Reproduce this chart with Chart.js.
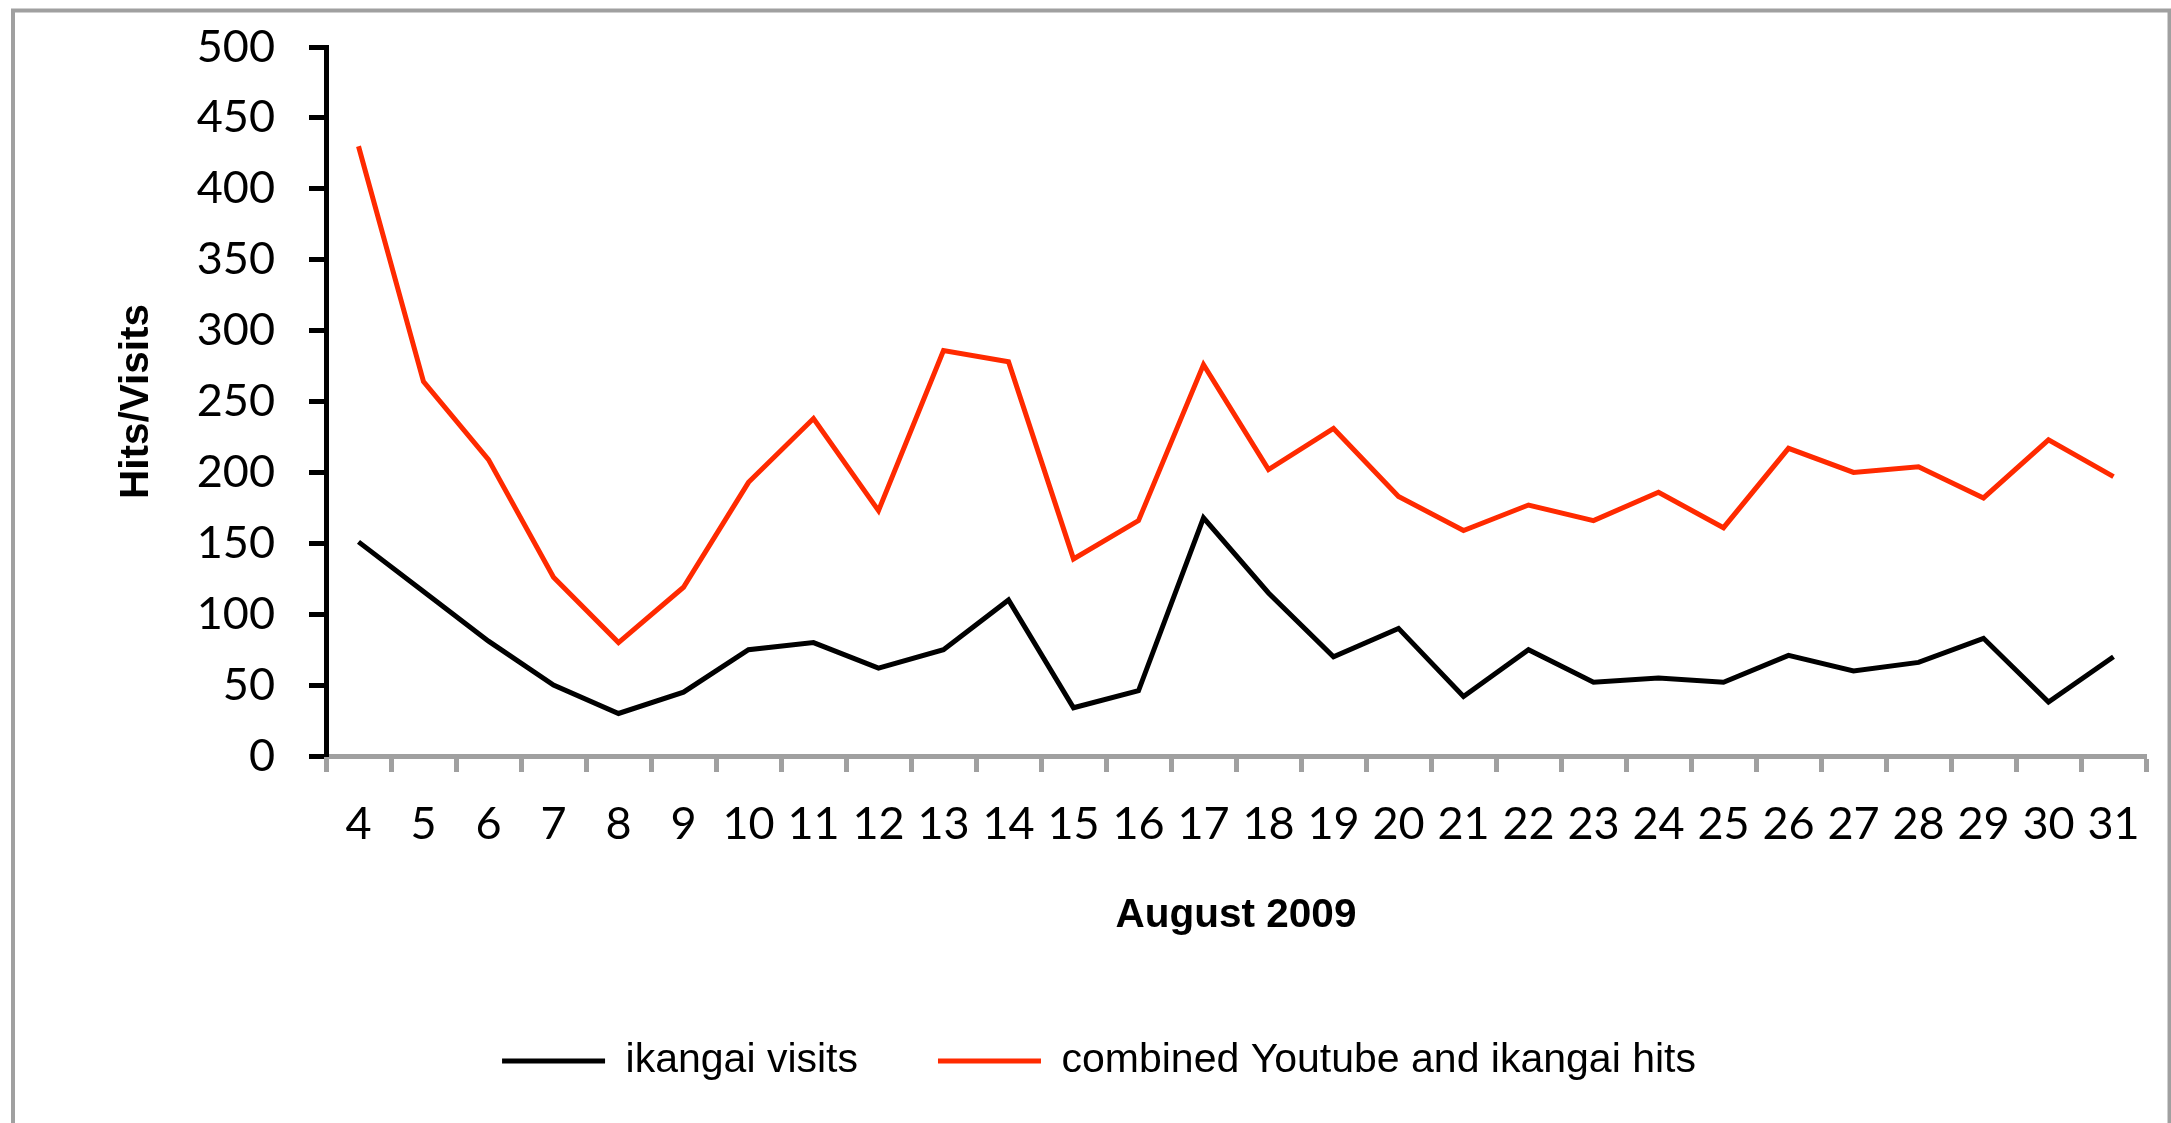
<!DOCTYPE html>
<html>
<head>
<meta charset="utf-8">
<title>ikangai visits and hits, August 2009</title>
<script src="https://cdn.jsdelivr.net/npm/chart.js@4/dist/chart.umd.min.js"></script>
<style>
  html, body { margin: 0; padding: 0; background: #ffffff; }
  canvas { display: block; }
</style>
</head>
<body>
<canvas id="chart" width="2171" height="1123"></canvas>
<script>
// Days of August 2009
const days = ['4','5','6','7','8','9','10','11','12','13','14','15','16','17','18','19','20','21','22','23','24','25','26','27','28','29','30','31'];

// Daily ikangai visits
const ikangaiVisits = [151, 116, 81, 50, 30, 45, 75, 80, 62, 75, 110, 34, 46, 168, 115, 70, 90, 42, 75, 52, 55, 52, 71, 60, 66, 83, 38, 70];

// Daily combined Youtube and ikangai hits
const combinedHits = [430, 264, 209, 126, 80, 119, 193, 238, 173, 286, 278, 139, 166, 276, 202, 231, 183, 159, 177, 166, 186, 161, 217, 200, 204, 182, 223, 197];

// Value axis range
const yMin = 0;
const yMax = 500;
const yStep = 50;

const seriesNames = ['ikangai visits', 'combined Youtube and ikangai hits'];
const xTitle = 'August 2009';
const yTitle = 'Hits/Visits';

const tickFont = { family: 'Lato, "Open Sans", sans-serif', size: 45 };
const boldFont = { family: '"Liberation Sans", Arial, sans-serif', size: 40.5, weight: 'bold' };
const legendFont = { family: '"Liberation Sans", Arial, sans-serif', size: 41 };

// White page with a grey frame around the chart
const framePlugin = {
  id: 'frame',
  beforeDraw(chart) {
    const ctx = chart.ctx;
    ctx.save();
    ctx.fillStyle = '#ffffff';
    ctx.fillRect(0, 0, chart.width, chart.height);
    ctx.strokeStyle = '#a0a0a0';
    ctx.lineWidth = 4;
    ctx.strokeRect(13, 10.5, 2156.5, 1400);
    ctx.restore();
  }
};

new Chart(document.getElementById('chart'), {
  type: 'line',
  data: {
    labels: days,
    datasets: [
      {
        label: seriesNames[0],
        data: ikangaiVisits,
        borderColor: '#000000',
        backgroundColor: '#000000',
        borderWidth: 5,
        pointRadius: 0,
        tension: 0,
        fill: false
      },
      {
        label: seriesNames[1],
        data: combinedHits,
        borderColor: '#ff2a00',
        backgroundColor: '#ff2a00',
        borderWidth: 5,
        pointRadius: 0,
        tension: 0,
        fill: false
      }
    ]
  },
  options: {
    responsive: false,
    animation: false,
    events: [],
    layout: { padding: { left: 52, right: 25, top: 47, bottom: 31.5 } },
    plugins: {
      tooltip: { enabled: false },
      legend: {
        position: 'bottom',
        align: 'center',
        labels: {
          usePointStyle: true,
          pointStyle: 'line',
          pointStyleWidth: 103,
          padding: 80,
          color: '#000000',
          font: legendFont
        }
      }
    },
    scales: {
      x: {
        type: 'category',
        offset: true,
        afterFit(scale) { scale.height = 204.5; },
        grid: {
          offset: true,
          drawOnChartArea: false,
          drawTicks: true,
          tickLength: 16,
          tickWidth: 5,
          tickColor: '#a0a0a0'
        },
        border: { display: true, color: '#a0a0a0', width: 5 },
        ticks: {
          autoSkip: false,
          maxRotation: 0,
          minRotation: 0,
          padding: 25,
          color: '#000000',
          font: tickFont
        },
        title: {
          display: true,
          text: xTitle,
          color: '#000000',
          font: boldFont,
          padding: { top: 0, bottom: 20 }
        }
      },
      y: {
        min: yMin,
        max: yMax,
        afterFit(scale) {
          scale.width = 274;
          scale.paddingTop = 0;
          scale.paddingBottom = 0;
        },
        grid: {
          drawOnChartArea: false,
          drawTicks: true,
          tickLength: 17,
          tickWidth: 5,
          tickColor: '#000000'
        },
        border: { display: true, color: '#000000', width: 5 },
        ticks: {
          stepSize: yStep,
          padding: 34,
          color: '#000000',
          font: tickFont
        },
        title: {
          display: true,
          text: yTitle,
          color: '#000000',
          font: boldFont,
          padding: { top: 60.4, bottom: 0 }
        }
      }
    }
  },
  plugins: [framePlugin]
});
</script>
</body>
</html>
